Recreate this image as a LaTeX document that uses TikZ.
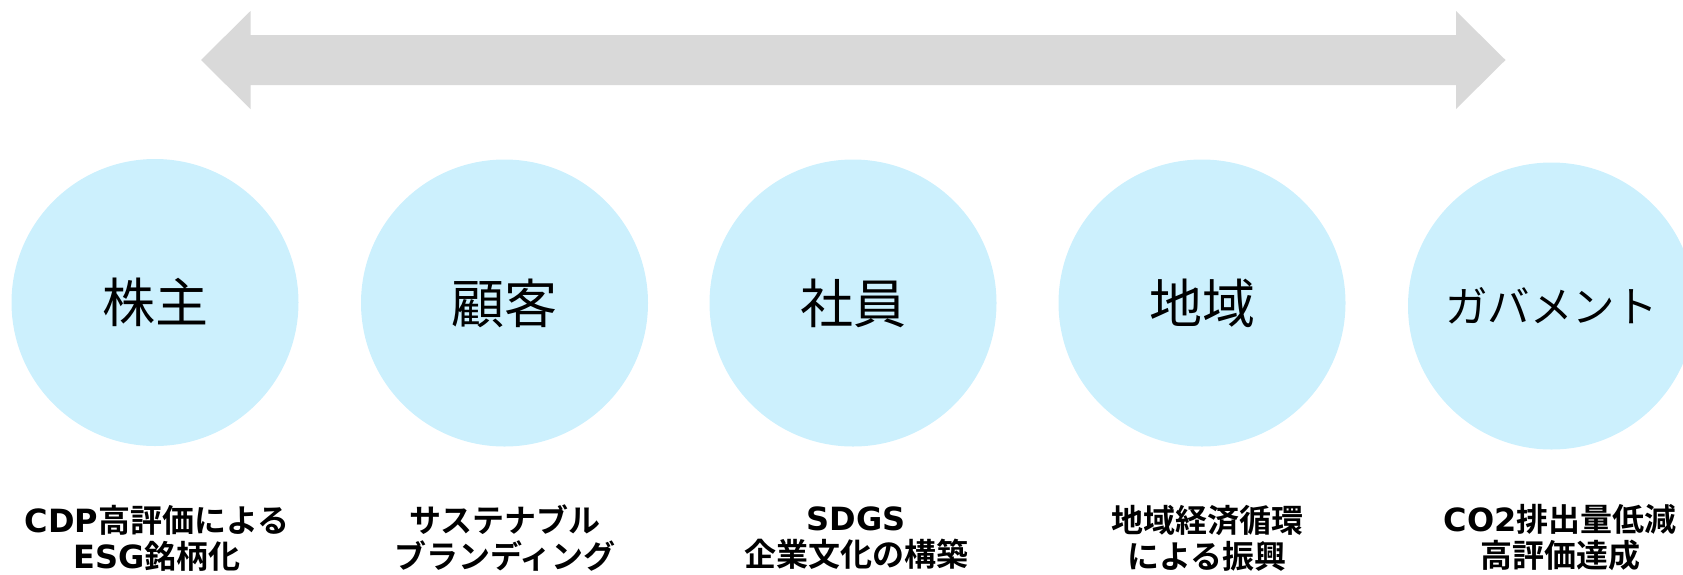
\documentclass[tikz,border=0pt]{standalone}
\usepackage{fontspec}
\setmainfont{Noto Sans CJK JP}[BoldFont={Noto Sans CJK JP Bold}]
\newfontfamily\lat{DejaVu Sans}
\definecolor{bubcol}{HTML}{CCF0FD}
\definecolor{arrowgray}{HTML}{D9D9D9}
\begin{document}
\begin{tikzpicture}[x=1pt,y=-1pt,
  bub/.style={circle,fill=bubcol,minimum size=287pt,inner sep=0pt,font=\fontsize{53}{60}\selectfont},
  lbl/.style={align=center,font=\bfseries\fontsize{32}{36}\selectfont,inner sep=0pt}]
\useasboundingbox (0,0) rectangle (1683,574);
\clip (0,0) rectangle (1683,574);
\fill[arrowgray] (201,60) -- (250.5,11) -- (250.5,35) -- (1456,35) -- (1456,11) -- (1505.5,60)
  -- (1456,109) -- (1456,85) -- (250.5,85) -- (250.5,109) -- cycle;
\node[bub] (c1) at (155,302.5) {株主};
\node[bub] (c2) at (504.5,303) {顧客};
\node[bub] (c3) at (853,303) {社員};
\node[bub] (c4) at (1202,303) {地域};
\node[bub,font=\fontsize{42.5}{48}\selectfont] (c5) at (1551.5,306) {ガバメント};
\node[lbl] (l1) at (157,538) {{\lat CDP}高評価による\\{\lat ESG}銘柄化};
\node[lbl] (l2) at (505,538) {サステナブル\\ブランディング};
\node[lbl] (l3) at (856,538) {{\lat SDGS}\\企業文化の構築};
\node[lbl] (l4) at (1207,538) {地域経済循環\\による振興};
\node[lbl] (l5) at (1560,538) {{\lat CO2}排出量低減\\高評価達成};
\end{tikzpicture}
\end{document}
